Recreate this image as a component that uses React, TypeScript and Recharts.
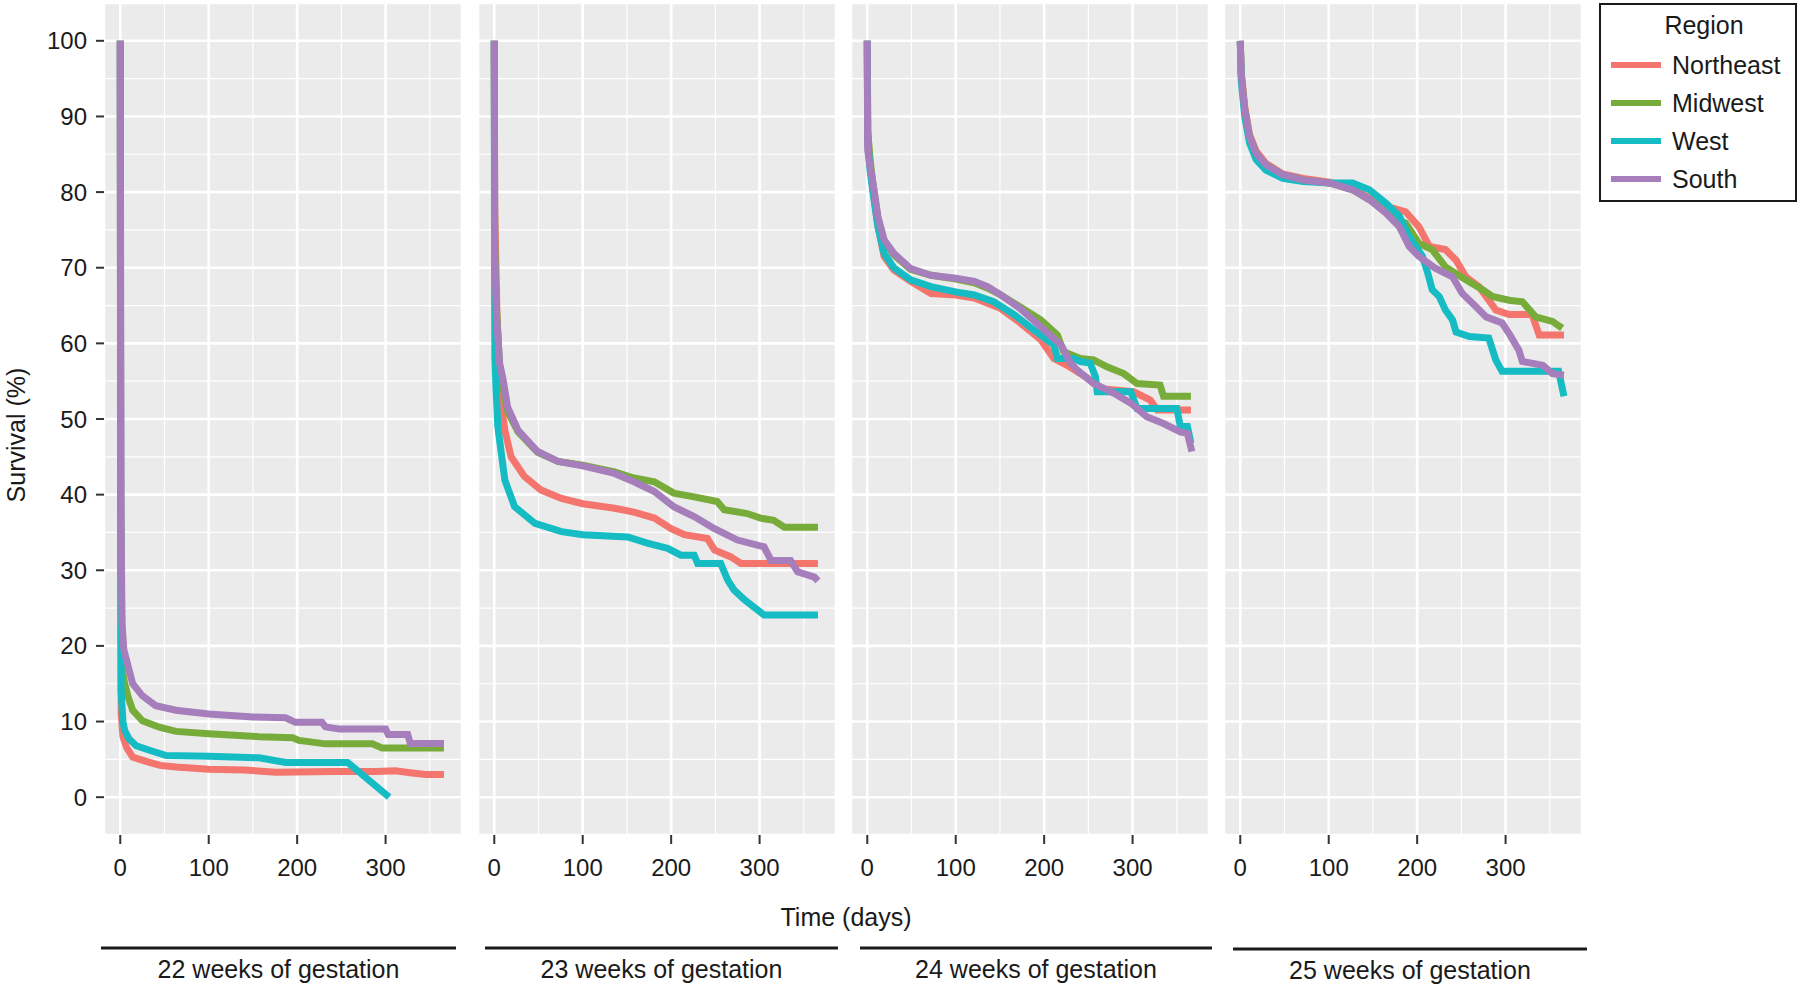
import { LineChart, Line, XAxis, YAxis, CartesianGrid } from 'recharts'

type Pt = [number, number]

const REGIONS = ['Northeast', 'Midwest', 'West', 'South']
const COLORS = ['#F4756D', '#78AC3A', '#16BCC4', '#A57EBB']
const PANELS = ['22 weeks of gestation', '23 weeks of gestation', '24 weeks of gestation', '25 weeks of gestation']

const X_TICKS = [0, 100, 200, 300]
const X_MINOR = [50, 150, 250, 350]
const Y_TICKS = [0, 10, 20, 30, 40, 50, 60, 70, 80, 90, 100]
const Y_MINOR = [5, 15, 25, 35, 45, 55, 65, 75, 85, 95]

// 22 weeks
const W22_NE: Pt[] = [[0,100],[0.3,40],[1,11],[3,8],[7,6.6],[14,5.3],[22,5.0],[33,4.6],[45,4.2],[63,4.0],[100,3.7],[140,3.6],[176,3.3],[240,3.4],[290,3.4],[311,3.5],[330,3.2],[345,3.0],[366,3.0]]
const W22_MW: Pt[] = [[0,100],[0.5,40],[2,17],[5,15],[9,13.2],[14,11.5],[25,10.1],[44,9.25],[63,8.7],[100,8.4],[157,8.0],[195,7.85],[202,7.5],[232,7.05],[285,7.05],[296,6.5],[366,6.5]]
const W22_W: Pt[] = [[0,100],[0.5,30],[1,14],[3,10],[5,8.8],[10,7.7],[18,6.8],[33,6.2],[52,5.5],[100,5.4],[157,5.2],[187,4.6],[257,4.6],[304,0]]
const W22_S: Pt[] = [[0,100],[0.5,60],[1,35],[2,23],[4,19.5],[14,15],[25,13.4],[40,12.1],[63,11.5],[100,11.0],[150,10.6],[187,10.5],[198,9.9],[228,9.9],[232,9.3],[248,9.0],[300,9.0],[303,8.3],[325,8.3],[328,7.1],[366,7.1]]

// 23 weeks
const W23_NE: Pt[] = [[0,100],[0.5,78],[3,64],[6,55],[9,51],[12,48.5],[19,45],[34,42.4],[53,40.6],[76,39.5],[100,38.8],[136,38.2],[158,37.7],[181,36.9],[200,35.5],[215,34.7],[241,34.2],[249,32.7],[267,31.8],[279,30.9],[366,30.9]]
const W23_MW: Pt[] = [[0,100],[0.5,73],[2.4,65],[6,57],[10,54],[15,51],[27,48.3],[49,45.6],[72,44.4],[100,43.9],[136,43.0],[158,42.2],[181,41.7],[203,40.2],[226,39.7],[252,39.1],[260,38.0],[286,37.5],[301,36.9],[316,36.6],[328,35.7],[366,35.7]]
const W23_W: Pt[] = [[0,100],[0.3,70],[0.7,58],[2,54],[4,49],[6,47.2],[12,41.9],[23,38.4],[46,36.2],[76,35.1],[100,34.7],[151,34.4],[173,33.6],[196,32.9],[211,32.0],[226,32.0],[230,30.9],[256,30.9],[264,28.7],[271,27.4],[283,26.1],[305,24.1],[366,24.1]]
const W23_S: Pt[] = [[0,100],[0.5,72],[2.4,64],[6,57.4],[10,55.2],[15,51.6],[27,48.5],[49,45.7],[72,44.4],[100,43.8],[136,42.8],[158,41.7],[181,40.4],[203,38.4],[226,37.1],[249,35.5],[275,34.0],[305,33.1],[313,31.3],[335,31.3],[343,29.8],[362,29.1],[366,28.6]]

// 24 weeks
const W24_NE: Pt[] = [[0,100],[0.5,88],[3,84],[6,80.7],[12,75.5],[19,71.5],[30,69.7],[49,68.2],[72,66.6],[100,66.4],[121,66.0],[151,64.6],[173,62.7],[196,60.5],[211,58.0],[226,57.1],[249,55.4],[264,54.0],[301,53.6],[320,52.5],[328,51.2],[366,51.2]]
const W24_MW: Pt[] = [[0,100],[0.5,88],[3,84.5],[6,81.4],[12,76.5],[19,73.5],[30,71.7],[49,69.8],[72,69.0],[100,68.5],[121,68.0],[136,67.3],[151,66.4],[173,64.8],[196,63.1],[215,61.1],[222,58.9],[241,58.0],[256,57.8],[271,56.9],[290,56.0],[305,54.7],[331,54.5],[335,53.0],[366,53.0]]
const W24_W: Pt[] = [[0,100],[0.5,87],[3,83],[6,80.3],[12,75.5],[19,71.9],[30,70.0],[49,68.4],[72,67.5],[100,66.8],[121,66.4],[143,65.5],[166,63.8],[188,61.8],[211,59.8],[215,58.0],[234,58.0],[241,57.6],[252,57.4],[258,55.6],[260,53.6],[298,53.6],[305,51.4],[350,51.4],[354,49.0],[362,49.0],[366,46.8]]
const W24_S: Pt[] = [[0,100],[0.4,85.6],[3,83.5],[6,81.6],[12,76.8],[19,73.7],[30,71.9],[49,69.9],[72,69.0],[100,68.6],[121,68.2],[136,67.5],[151,66.4],[173,64.6],[196,62.2],[219,59.8],[230,57.4],[237,56.5],[256,54.7],[279,53.4],[298,52.1],[316,50.3],[335,49.4],[354,48.3],[362,48.1],[367,45.7]]

// 25 weeks
const W25_NE: Pt[] = [[0,100],[1,96],[5,91.3],[10.5,87.6],[18,85.4],[29,83.8],[48,82.4],[71,81.8],[101,81.3],[127,80.5],[146,79.2],[165,77.8],[172,77.9],[187,77.4],[202,75.4],[214,72.8],[232,72.4],[244,71.0],[255,68.8],[270,67.5],[281,65.7],[289,64.4],[304,63.8],[330,63.8],[338,61.1],[366,61.1]]
const W25_MW: Pt[] = [[0,100],[1,95.7],[5,90.9],[10.5,87.3],[18,85.1],[29,83.6],[48,82.3],[71,81.6],[101,81.2],[127,80.3],[146,79.0],[165,77.4],[180,76.2],[187,75.9],[202,73.2],[217,72.4],[232,70.1],[255,68.4],[274,67.1],[285,66.2],[304,65.7],[319,65.5],[334,63.5],[353,62.9],[364,62.0]]
const W25_W: Pt[] = [[0,100],[1,94.8],[5,90],[10.5,86.5],[18,84.3],[29,82.9],[48,81.8],[71,81.4],[101,81.2],[127,81.2],[146,80.3],[165,78.5],[180,76.8],[191,74.1],[206,71.5],[212,69.3],[217,67.1],[225,66.2],[232,64.4],[240,63.1],[244,61.5],[259,60.9],[281,60.7],[289,57.8],[296,56.3],[360,56.3],[366,53.0]]
const W25_S: Pt[] = [[0,100],[1,95.7],[5,90.9],[10.5,87.3],[18,85.1],[29,83.6],[48,82.3],[71,81.6],[101,81.2],[127,80.3],[146,79.0],[165,77.2],[180,75.4],[191,72.8],[202,71.5],[221,69.9],[240,68.8],[251,66.6],[266,64.9],[278,63.5],[296,62.7],[304,61.3],[315,59.1],[319,57.6],[342,57.1],[353,56.0],[366,55.8]]

const SERIES: Pt[][][] = [
  [W22_NE, W22_MW, W22_W, W22_S],
  [W23_NE, W23_MW, W23_W, W23_S],
  [W24_NE, W24_MW, W24_W, W24_S],
  [W25_NE, W25_MW, W25_W, W25_S],
]

const FONT = '"Liberation Sans", Arial, sans-serif'
const INK = '#1a1a1a'
const PANEL_LEFT = [104, 478, 851, 1224]
const PANEL_W = 358
const Y_AXIS_W = 104

function Panel({ idx }: { idx: number }) {
  const first = idx === 0
  const left = first ? 0 : PANEL_LEFT[idx]
  const width = first ? Y_AXIS_W + PANEL_W : PANEL_W
  return (
    <div style={{ position: 'absolute', left, top: 0 }}>
      <LineChart width={width} height={895} margin={{ top: 3, right: 0, bottom: 0, left: 0 }}>
        <CartesianGrid fill="#EBEBEB" stroke="#fff" strokeWidth={1.2}
          horizontalValues={Y_MINOR} verticalValues={X_MINOR} />
        <CartesianGrid stroke="#fff" strokeWidth={2.6} />
        <XAxis dataKey="day" type="number" domain={[-18.4, 386.4]} ticks={X_TICKS} interval={0}
          allowDataOverflow axisLine={false} tickSize={9} tickMargin={15} height={60}
          tickLine={{ stroke: '#333', strokeWidth: 2 }}
          tick={{ fill: INK, fontSize: 24, fontFamily: FONT }} />
        <YAxis type="number" domain={[-5, 105]} ticks={Y_TICKS} interval={0} allowDataOverflow
          hide={!first} width={Y_AXIS_W} axisLine={false} tickSize={8} tickMargin={9}
          tickLine={{ stroke: '#333', strokeWidth: 2 }}
          tick={{ fill: INK, fontSize: 24, fontFamily: FONT }} />
        {SERIES[idx].map((pts, i) => (
          <Line key={REGIONS[i]} data={pts.map(([day, v]) => ({ day, v }))} dataKey="v"
            type="linear" stroke={COLORS[i]} strokeWidth={7} dot={false}
            activeDot={false} isAnimationActive={false} />
        ))}
      </LineChart>
    </div>
  )
}

const STRIP_X = [[101, 456], [485, 838], [860, 1212], [1233, 1587]]

export default function App() {
  return (
    <div style={{ position: 'absolute', left: 0, top: 0, width: 1800, height: 987, background: '#fff', fontFamily: FONT }}>
      {PANELS.map((_, i) => <Panel key={i} idx={i} />)}
      <svg width={1800} height={987} style={{ position: 'absolute', left: 0, top: 0, pointerEvents: 'none' }}>
        <text x={16} y={435} transform="rotate(-90 16 435)" textAnchor="middle" dominantBaseline="central"
          fontSize={25} fill={INK} fontFamily={FONT}>Survival (%)</text>
        <text x={846} y={917} textAnchor="middle" dominantBaseline="central" fontSize={25} fill={INK}
          fontFamily={FONT}>Time (days)</text>
        {PANELS.map((p, i) => {
          const [x1, x2] = STRIP_X[i]
          const y = i === 3 ? 949 : 948
          return (
            <g key={p}>
              <line x1={x1} x2={x2} y1={y} y2={y} stroke={INK} strokeWidth={3} />
              <text x={(x1 + x2) / 2} y={y + 21} textAnchor="middle" dominantBaseline="central"
                fontSize={25} fill={INK} fontFamily={FONT}>{p}</text>
            </g>
          )
        })}
        <rect x={1600} y={4} width={196} height={197} fill="#fff" stroke={INK} strokeWidth={2} />
        <text x={1704} y={25} textAnchor="middle" dominantBaseline="central" fontSize={25} fill={INK}
          fontFamily={FONT}>Region</text>
        {REGIONS.map((r, i) => {
          const y = 65 + i * 38
          return (
            <g key={r}>
              <line x1={1611} x2={1661} y1={y} y2={y} stroke={COLORS[i]} strokeWidth={6} />
              <text x={1672} y={y} dominantBaseline="central" fontSize={25} fill={INK}
                fontFamily={FONT}>{r}</text>
            </g>
          )
        })}
      </svg>
    </div>
  )
}
